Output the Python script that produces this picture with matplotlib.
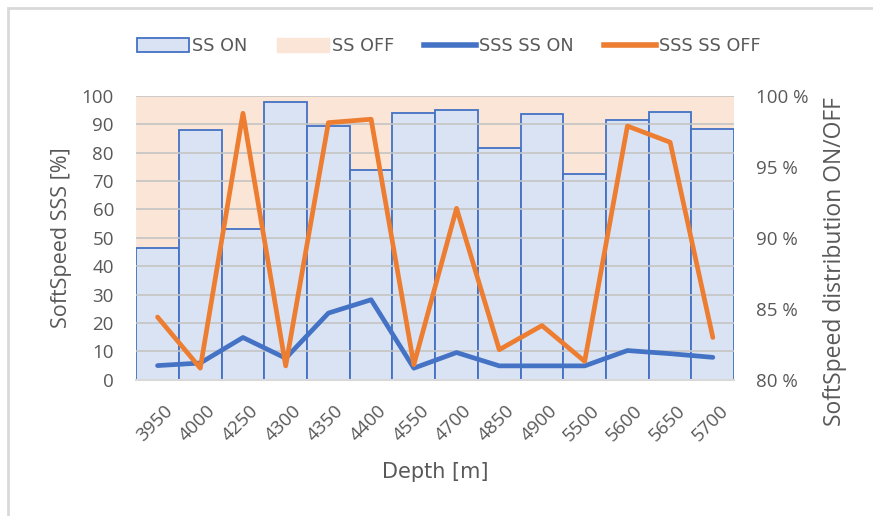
import matplotlib.pyplot as plt
import numpy as np
from matplotlib.patches import Patch, Rectangle
from matplotlib.lines import Line2D
from matplotlib.ticker import FuncFormatter
from matplotlib.transforms import ScaledTranslation

# depth intervals and measured shares / speeds
depth = ['3950', '4000', '4250', '4300', '4350', '4400', '4550',
         '4700', '4850', '4900', '5500', '5600', '5650', '5700']
ss_on = [89.3, 97.6, 90.6, 99.6, 97.9, 94.8, 98.8,
         99.0, 96.3, 98.7, 94.5, 98.3, 98.9, 97.7]      # % of time SoftSpeed on
ss_off = [100 - v for v in ss_on]
sss_on = [5.0, 5.9, 14.9, 7.6, 23.5, 28.2, 4.1,
          9.6, 4.9, 4.9, 4.9, 10.3, 9.2, 7.9]
sss_off = [22.1, 4.1, 93.9, 4.9, 90.6, 91.8, 5.3,
           60.4, 10.6, 19.1, 6.5, 89.4, 83.7, 14.9]

txt = '#595959'
blue_fill, blue = '#DAE3F3', '#4472C4'
orange_fill, orange = '#FBE5D6', '#ED7D31'
wide = ['Open Sans', 'DejaVu Sans']

fig = plt.figure(figsize=(8.73, 5.16), dpi=100)
ax = fig.add_axes([0.156, 0.264, 0.685, 0.550])
ax2 = ax.twinx()
x = np.arange(len(depth))

# stacked distribution bars on the secondary axis (OFF first so ON edges stay visible)
ax2.bar(x, ss_off, width=1.0, bottom=ss_on, color=orange_fill,
        edgecolor=orange_fill, linewidth=0.5)
ax2.bar(x, ss_on, width=1.0, color=blue_fill, edgecolor=blue, linewidth=1.3)
ax2.set_ylim(80, 100)
ax2.set_yticks([80, 85, 90, 95, 100])
ax2.yaxis.set_major_formatter(FuncFormatter(lambda v, p: f'{v:.0f} %'))

# speed lines on the primary axis, drawn above the bars
ax.set_zorder(ax2.get_zorder() + 1)
ax.patch.set_visible(False)
ax.plot(x, sss_on, color=blue, lw=3.4, solid_joinstyle='round', solid_capstyle='round')
ax.plot(x, sss_off, color=orange, lw=3.4, solid_joinstyle='round', solid_capstyle='round')
ax.set_ylim(0, 100)
ax.set_yticks(range(0, 101, 10))
ax.set_xlim(-0.5, len(depth) - 0.5)
ax.set_xticks(x)
ax.set_xticklabels(depth, rotation=45, ha='right', rotation_mode='anchor')
ax.yaxis.grid(True, color='#C4C4C4', lw=1.2)
ax.set_axisbelow(True)

for a in (ax, ax2):
    for s in a.spines.values():
        s.set_visible(False)
    a.tick_params(length=0, labelsize=13.5, labelcolor=txt)
    for lab in a.get_xticklabels() + a.get_yticklabels():
        lab.set_family(wide)
ax.spines['bottom'].set_visible(True)
ax.spines['bottom'].set_color('#D9D9D9')
ax.spines['bottom'].set_linewidth(1.5)
ax.tick_params(axis='y', pad=16)
ax.tick_params(axis='x', pad=16)
ax2.tick_params(axis='y', pad=16)
shift = ScaledTranslation(6 / 100, 0, fig.dpi_scale_trans)
for lab in ax.get_xticklabels():
    lab.set_transform(lab.get_transform() + shift)

ax.set_ylabel('SoftSpeed SSS [%]', fontsize=15.5, color=txt, family=wide, labelpad=7)
ax2.set_ylabel('SoftSpeed distribution ON/OFF', fontsize=16.5, color=txt,
               family=wide, labelpad=10)
ax2.yaxis.label.set_y(0.415)
ax.set_xlabel('Depth [m]', fontsize=15, color=txt, labelpad=12)

handles = [Patch(facecolor=blue_fill, edgecolor=blue, linewidth=1.3),
           Patch(facecolor=orange_fill, edgecolor=orange_fill),
           Line2D([], [], color=blue, lw=4),
           Line2D([], [], color=orange, lw=4)]
fig.legend(handles, ['SS ON', 'SS OFF', 'SSS SS ON', 'SSS SS OFF'],
           loc='center', bbox_to_anchor=(0.514, 1 - 46 / 516), ncol=4,
           frameon=False, handlelength=2.95, handleheight=0.8, handletextpad=0.17,
           columnspacing=1.7, fontsize=12.7, labelcolor=txt)

# light chart border
fig.add_artist(Rectangle((8 / 873, -0.1), 1.2, 1.1 - 8 / 516, transform=fig.transFigure,
                         fill=False, edgecolor='#D9D9D9', lw=2))

fig.savefig('out.png', dpi=100)
